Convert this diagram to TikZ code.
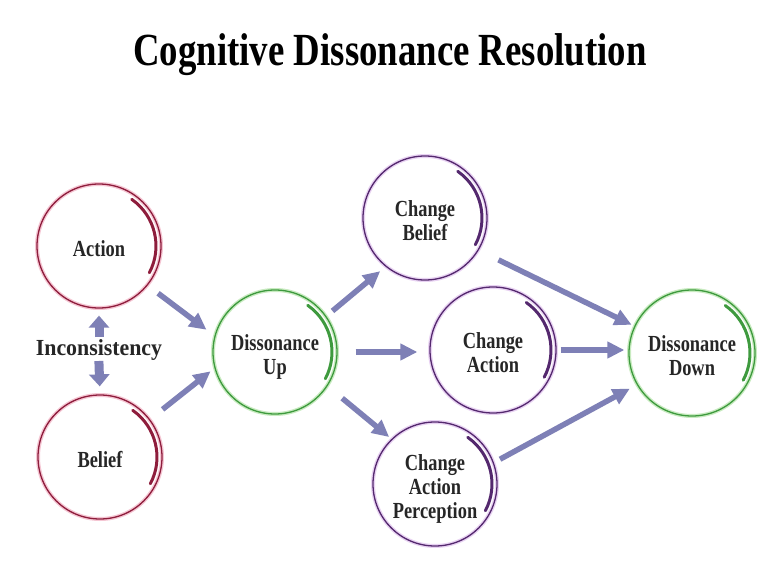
\documentclass[tikz,border=0pt]{standalone}
\usepackage{fontspec}
\setmainfont{Liberation Serif}
\usetikzlibrary{arrows.meta,calc}
\definecolor{redc}{HTML}{8E1D3C}
\definecolor{redh}{HTML}{F5C6D3}
\definecolor{grnc}{HTML}{3E9A3E}
\definecolor{grnh}{HTML}{C8EBC0}
\definecolor{purc}{HTML}{54286E}
\definecolor{purh}{HTML}{E8D2F2}
\definecolor{arrc}{HTML}{7E80B6}
\newcommand\sqz[2][0.8]{\raisebox{0pt}[\dimexpr\height+12pt\relax][\depth]{\scalebox{#1}[1]{\begin{tabular}{@{}c@{}}#2\end{tabular}}}}
\newcommand\sqy[2][0.8]{\scalebox{#1}[1]{#2}}
\tikzset{
  ring/.style={circle, draw=#1, line width=1.3pt, minimum size=124pt, inner sep=0pt,
    font=\bfseries\fontsize{23}{24}\selectfont, text=black!85},
  arr/.style={draw=arrc, line width=5.5pt, -{Triangle[width=16pt,length=17pt]}},
  dbl/.style={draw=arrc, line width=9pt, -{Triangle[width=20pt,length=12pt]}},
}
\newcommand\thick[4]{% node, radius, color, halo
  \draw[#4, line width=4pt] (#1) circle[radius=#2pt];
  \draw[#3, line width=1.3pt] (#1) circle[radius=#2pt];
  \draw[#3, line width=3pt, line cap=round] ([shift={(55:#2pt-5pt)}]#1.center) arc[start angle=55, end angle=-28, radius=#2pt-5pt];
}
\begin{document}
\begin{tikzpicture}[x=1pt,y=-1pt]
\useasboundingbox[fill=white] (0,0) rectangle (779,575);

\node (title) at (390,55) {\scalebox{0.8}[1]{\bfseries\fontsize{46}{50}\selectfont Cognitive Dissonance Resolution}};

\node[ring=redc] (act) at (99,246) {\sqz{Action}};
\node[ring=redc] (bel) at (100,457) {\sqz{Belief}};
\node[ring=grnc] (du) at (275,352) {\sqz{Dissonance\\Up}};
\node[ring=purc] (cb) at (425,218) {\sqz{Change\\Belief}};
\node[ring=purc, minimum size=126pt] (ca) at (493,350) {\sqz{Change\\Action}};
\node[ring=purc] (cap) at (435,484) {\sqz{Change\\Action\\Perception}};
\node[ring=grnc, minimum size=126pt] (dd) at (692,353) {\sqz{Dissonance\\Down}};

\node[font=\bfseries\fontsize{23}{24}\selectfont, text=black!85] (inc) at (99,350) {\sqy[0.95]{Inconsistency}};

\thick{act}{62}{redc}{redh}
\thick{bel}{62}{redc}{redh}
\thick{du}{62}{grnc}{grnh}
\thick{cb}{62}{purc}{purh}
\thick{ca}{63}{purc}{purh}
\thick{cap}{62}{purc}{purh}
\thick{dd}{63}{grnc}{grnh}

\draw[arr, shorten <=13pt, shorten >=10pt] (act.-39) -- (du.165);
\draw[arr, shorten <=16pt, shorten >=5pt] (bel.37) -- (du.195);
\draw[arr, shorten <=8pt, shorten >=7pt] (du.35) -- (cb.231);
\draw[arr, shorten <=18pt, shorten >=12pt] (du.east) -- (du.east -| ca.west);
\draw[arr, shorten <=19pt, shorten >=3pt] (du.-33) -- (cap.134);
\draw[arr, shorten <=22pt, shorten >=3pt] (cb.-31) -- (dd.155);
\draw[arr, shorten <=4pt, shorten >=4pt] (ca.east) -- (ca.east -| dd.west);
\draw[arr, shorten <=7pt, shorten >=8pt] (cap.20) -- (dd.210);

\draw[dbl, shorten <=-1pt, shorten >=7pt] (inc.north) -- (act.south);
\draw[dbl, shorten <=-3pt, shorten >=8pt] (inc.south) -- (bel.north);
\end{tikzpicture}
\end{document}
